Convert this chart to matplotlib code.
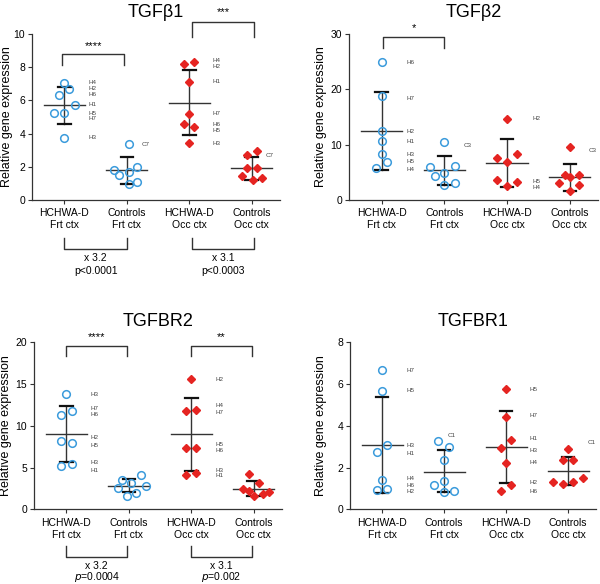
import matplotlib
matplotlib.use("Agg")
import matplotlib.pyplot as plt
import numpy as np

plt.rcParams['font.family'] = ['Liberation Sans', 'DejaVu Sans']

categories = ["HCHWA-D\nFrt ctx", "Controls\nFrt ctx", "HCHWA-D\nOcc ctx", "Controls\nOcc ctx"]

# TGFb1 values per group
tgfb1_hf = [7.03, 6.67, 6.33, 5.72, 5.26, 5.22, 3.75]
tgfb1_cf = [3.37, 1.81, 1.51, 1.69, 2.00, 0.96, 1.08]
tgfb1_ho = [8.19, 8.29, 7.10, 5.16, 4.58, 4.38, 3.41]
tgfb1_co = [2.71, 2.95, 1.91, 1.91, 1.47, 1.20, 1.31]
tgfb1_mean = [5.70, 1.80, 5.87, 1.92]
tgfb1_sd = [(6.83, 4.58), (2.60, 0.97), (7.85, 3.92), (2.60, 1.20)]

tgfb2_hf = [24.95, 18.76, 12.39, 10.58, 8.30, 6.90, 5.70]
tgfb2_cf = [10.50, 5.90, 6.07, 4.27, 4.87, 3.13, 2.70]
tgfb2_ho = [14.60, 7.64, 8.36, 6.90, 3.67, 3.19, 2.47]
tgfb2_co = [9.50, 4.57, 4.57, 3.00, 4.09, 2.65, 1.68]
tgfb2_mean = [12.5, 5.35, 6.75, 4.10]
tgfb2_sd = [(19.5, 5.5), (8.0, 2.65), (11.0, 2.4), (6.55, 1.62)]

tgfbr2_hf = [13.85, 11.74, 11.26, 8.22, 7.98, 5.23, 5.43]
tgfbr2_cf = [4.07, 3.51, 3.19, 2.79, 2.51, 1.92, 1.64]
tgfbr2_ho = [15.57, 11.74, 11.94, 7.31, 7.31, 4.11, 4.31]
tgfbr2_co = [4.27, 3.19, 2.40, 2.16, 2.12, 1.84, 1.60]
tgfbr2_mean = [9.06, 2.77, 8.98, 2.44]
tgfbr2_sd = [(12.4, 5.67), (3.63, 2.08), (13.3, 4.6), (3.39, 1.6)]

tgfbr1_hf = [6.66, 5.65, 3.10, 2.76, 1.42, 0.91, 0.97]
tgfbr1_cf = [3.26, 2.99, 2.35, 1.15, 1.36, 0.88, 0.81]
tgfbr1_ho = [5.75, 4.44, 3.32, 2.94, 2.24, 1.15, 0.86]
tgfbr1_co = [2.89, 2.38, 2.38, 1.29, 1.20, 1.29, 1.52]
tgfbr1_mean = [3.10, 1.80, 3.00, 1.83]
tgfbr1_sd = [(5.4, 0.8), (2.84, 0.83), (4.73, 1.26), (2.49, 1.15)]

# horizontal jitter of each point (as seen in the scatter)
jit_tgfb1 = [[0, 0.2, -0.25, 0.5, -0.5, 0, 0],
             [0.1, -0.6, -0.4, 0.1, 0.5, 0.1, 0.5],
             [-0.25, 0.25, 0, 0, -0.25, 0.25, 0],
             [-0.25, 0.25, -0.25, 0.25, -0.45, 0.05, 0.5]]
jit_tgfb2 = [[0, 0, 0, 0, 0, 0.25, -0.25],
             [0, -0.7, 0.5, -0.45, 0, 0.5, 0],
             [0, -0.5, 0.5, 0, -0.5, 0.5, 0],
             [0, -0.25, 0.45, -0.5, 0, 0.45, 0]]
jit_tgfbr2 = [[0, 0.25, -0.25, -0.25, 0.25, -0.25, 0.25],
              [0.6, -0.35, 0.1, 0.85, -0.55, 0.35, -0.1],
              [0, -0.25, 0.25, -0.25, 0.25, -0.25, 0.25],
              [-0.25, 0.25, -0.5, -0.25, 0.75, 0.45, 0]]
jit_tgfbr1 = [[0, 0, 0.25, -0.25, 0, -0.25, 0.25],
              [-0.3, 0.25, 0, -0.5, 0, 0.5, 0],
              [0, 0, 0.25, -0.25, 0, 0.25, -0.25],
              [0, -0.25, 0.25, -0.75, -0.25, 0.25, 0.75]]

lab_tgfb1_hf = [("H4", 7.05), ("H2", 6.7), ("H6", 6.34), ("H1", 5.74), ("H5", 5.24), ("H7", 4.94), ("H3", 3.77)]
lab_tgfb1_ho = [("H4", 8.43), ("H2", 8.07), ("H1", 7.14), ("H7", 5.2), ("H6", 4.56), ("H5", 4.16), ("H3", 3.41)]
lab_tgfb1_c = [(1, "C7", 3.33), (3, "C7", 2.71)]
lab_tgfb2_hf = [("H6", 24.9), ("H7", 18.3), ("H2", 12.3), ("H1", 10.6), ("H3", 8.2), ("H5", 6.9), ("H4", 5.5)]
lab_tgfb2_ho = [(2, "H2", 14.8), (2, "H5", 3.3), (2, "H4", 2.3)]
lab_tgfb2_c = [(1, "C3", 9.9), (3, "C3", 8.9)]
lab_tgfbr2_hf = [("H3", 13.8), ("H7", 12.1), ("H6", 11.3), ("H2", 8.6), ("H5", 7.7), ("H3", 5.6), ("H1", 4.7)]
lab_tgfbr2_ho = [("H2", 15.6), ("H4", 12.4), ("H7", 11.6), ("H5", 7.8), ("H6", 7.0), ("H3", 4.7), ("H1", 4.1)]
lab_tgfbr1_hf = [("H7", 6.66), ("H5", 5.67), ("H3", 3.04), ("H1", 2.66), ("H4", 1.48), ("H6", 1.12), ("H2", 0.85)]
lab_tgfbr1_ho = [("H5", 5.75), ("H7", 4.49), ("H1", 3.4), ("H3", 2.8), ("H4", 2.24), ("H2", 1.28), ("H6", 0.83)]
lab_tgfbr1_c = [(1, "C1", 3.55), (3, "C1", 3.2)]

BLUE = "#3b9bdc"
RED = "#e52421"
LINE = "#333333"


def draw_panel(ax, title, groups, jits, means, sds, ymax, yticks, ylab_x):
    for i, (vals, jit) in enumerate(zip(groups, jits)):
        x = i + np.array(jit) * 0.33
        lo, hi = sds[i][1], sds[i][0]
        ax.plot([i - 0.33, i + 0.33], [means[i], means[i]], color=LINE, lw=1.0, zorder=2)
        ax.plot([i, i], [lo, hi], color=LINE, lw=1.0, zorder=2)
        for yy in (lo, hi):
            ax.plot([i - 0.1, i + 0.1], [yy, yy], color="#111111", lw=1.6, zorder=2)
        if i < 2:
            ax.plot(x, vals, 'o', ms=5.5, mfc='none', mec=BLUE, mew=1.1, zorder=3)
        else:
            ax.plot(x, vals, 'D', ms=4.5, mfc=RED, mec=RED, zorder=3)
    ax.set_xlim(-0.52, 3.45)
    ax.set_ylim(0, ymax)
    ax.set_yticks(yticks)
    ax.set_xticks(range(4))
    ax.set_xticklabels(categories, fontsize=7.5, linespacing=1.25)
    ax.tick_params(axis='y', labelsize=7.5, length=3, width=0.8, color=LINE, pad=2)
    ax.tick_params(axis='x', length=3, width=0.8, color=LINE, pad=3)
    for s in ('top', 'right'):
        ax.spines[s].set_visible(False)
    for s in ('left', 'bottom'):
        ax.spines[s].set_color(LINE)
        ax.spines[s].set_linewidth(0.9)
    ax.spines['left'].set_bounds(0, ymax)
    ax.set_ylabel("Relative gene expression", fontsize=9)
    ax.yaxis.set_label_coords(ylab_x, 0.5)
    ax.set_title(title, fontsize=13, pad=12)


def side_labels(ax, xpos, labels, color="#444444"):
    for name, yy in labels:
        ax.text(xpos, yy, name, fontsize=4.5, color=color, va='center', ha='left')


def top_bracket(ax, x0, x1, y, drop, stars):
    ax.plot([x0, x0, x1, x1], [y - drop, y, y, y - drop], color=LINE, lw=1.0, clip_on=False)
    ax.text((x0 + x1) / 2, y + drop * 0.35, stars, ha='center', va='bottom', fontsize=8)


def bottom_bracket(ax, x0, x1, y0, y1, t0, t1, fold, ptext):
    tr = ax.get_xaxis_transform()
    ax.plot([x0, x0, x1, x1], [y0, y1, y1, y0], color=LINE, lw=1.0,
            transform=tr, clip_on=False)
    ax.text((x0 + x1) / 2, t0, fold, ha='center', va='center', fontsize=7.5, transform=tr)
    ax.text((x0 + x1) / 2, t1, ptext, ha='center', va='center', fontsize=7.5, transform=tr)


fig = plt.figure(figsize=(6.0, 5.84), dpi=100)
ax1 = fig.add_axes([0.0533, 0.6575, 0.413, 0.2843])
ax2 = fig.add_axes([0.5817, 0.6575, 0.415, 0.2843])
ax3 = fig.add_axes([0.0567, 0.1279, 0.413, 0.286])
ax4 = fig.add_axes([0.5833, 0.1279, 0.41, 0.286])

# TGFb1
draw_panel(ax1, "TGF\u03b21", [tgfb1_hf, tgfb1_cf, tgfb1_ho, tgfb1_co], jit_tgfb1,
           tgfb1_mean, tgfb1_sd, 10, [0, 2, 4, 6, 8, 10], -0.077)
side_labels(ax1, 0.38, lab_tgfb1_hf)
side_labels(ax1, 2.38, lab_tgfb1_ho)
for gi, name, yy in lab_tgfb1_c:
    ax1.text(gi + 0.23, yy, name, fontsize=4.5, color="#444444", va='center')
top_bracket(ax1, -0.04, 0.96, 8.77, 0.65, "****")
top_bracket(ax1, 2.04, 3.04, 10.7, 0.9, "***")
bottom_bracket(ax1, 0.0, 1.0, -0.229, -0.295, -0.349, -0.428, "x 3.2", "p<0.0001")
bottom_bracket(ax1, 2.04, 3.04, -0.229, -0.295, -0.349, -0.428, "x 3.1", "p<0.0003")

# TGFb2
draw_panel(ax2, "TGF\u03b22", [tgfb2_hf, tgfb2_cf, tgfb2_ho, tgfb2_co], jit_tgfb2,
           tgfb2_mean, tgfb2_sd, 30, [0, 10, 20, 30], -0.088)
side_labels(ax2, 0.4, lab_tgfb2_hf)
for gi, name, yy in lab_tgfb2_ho:
    ax2.text(gi + 0.4, yy, name, fontsize=4.5, color="#444444", va='center')
for gi, name, yy in lab_tgfb2_c:
    ax2.text(gi + 0.3, yy, name, fontsize=4.5, color="#444444", va='center')
top_bracket(ax2, 0.02, 1.0, 29.4, 2.0, "*")

# TGFBR2
draw_panel(ax3, "TGFBR2", [tgfbr2_hf, tgfbr2_cf, tgfbr2_ho, tgfbr2_co], jit_tgfbr2,
           tgfbr2_mean, tgfbr2_sd, 20, [0, 5, 10, 15, 20], -0.089)
side_labels(ax3, 0.38, lab_tgfbr2_hf)
side_labels(ax3, 2.38, lab_tgfbr2_ho)
top_bracket(ax3, 0.0, 0.97, 19.6, 1.2, "****")
top_bracket(ax3, 2.0, 2.97, 19.6, 1.2, "**")
bottom_bracket(ax3, 0.0, 0.97, -0.22, -0.286, -0.34, -0.405, "x 3.2", "$p$=0.0004")
bottom_bracket(ax3, 2.0, 2.97, -0.22, -0.286, -0.34, -0.405, "x 3.1", "$p$=0.002")

# TGFBR1
draw_panel(ax4, "TGFBR1", [tgfbr1_hf, tgfbr1_cf, tgfbr1_ho, tgfbr1_co], jit_tgfbr1,
           tgfbr1_mean, tgfbr1_sd, 8, [0, 2, 4, 6, 8], -0.093)
side_labels(ax4, 0.4, lab_tgfbr1_hf)
side_labels(ax4, 2.38, lab_tgfbr1_ho)
for gi, name, yy in lab_tgfbr1_c:
    ax4.text(gi + 0.05 if gi == 1 else gi + 0.32, yy, name, fontsize=4.5, color="#444444", va='center')

fig.savefig("out.png", dpi=100)
